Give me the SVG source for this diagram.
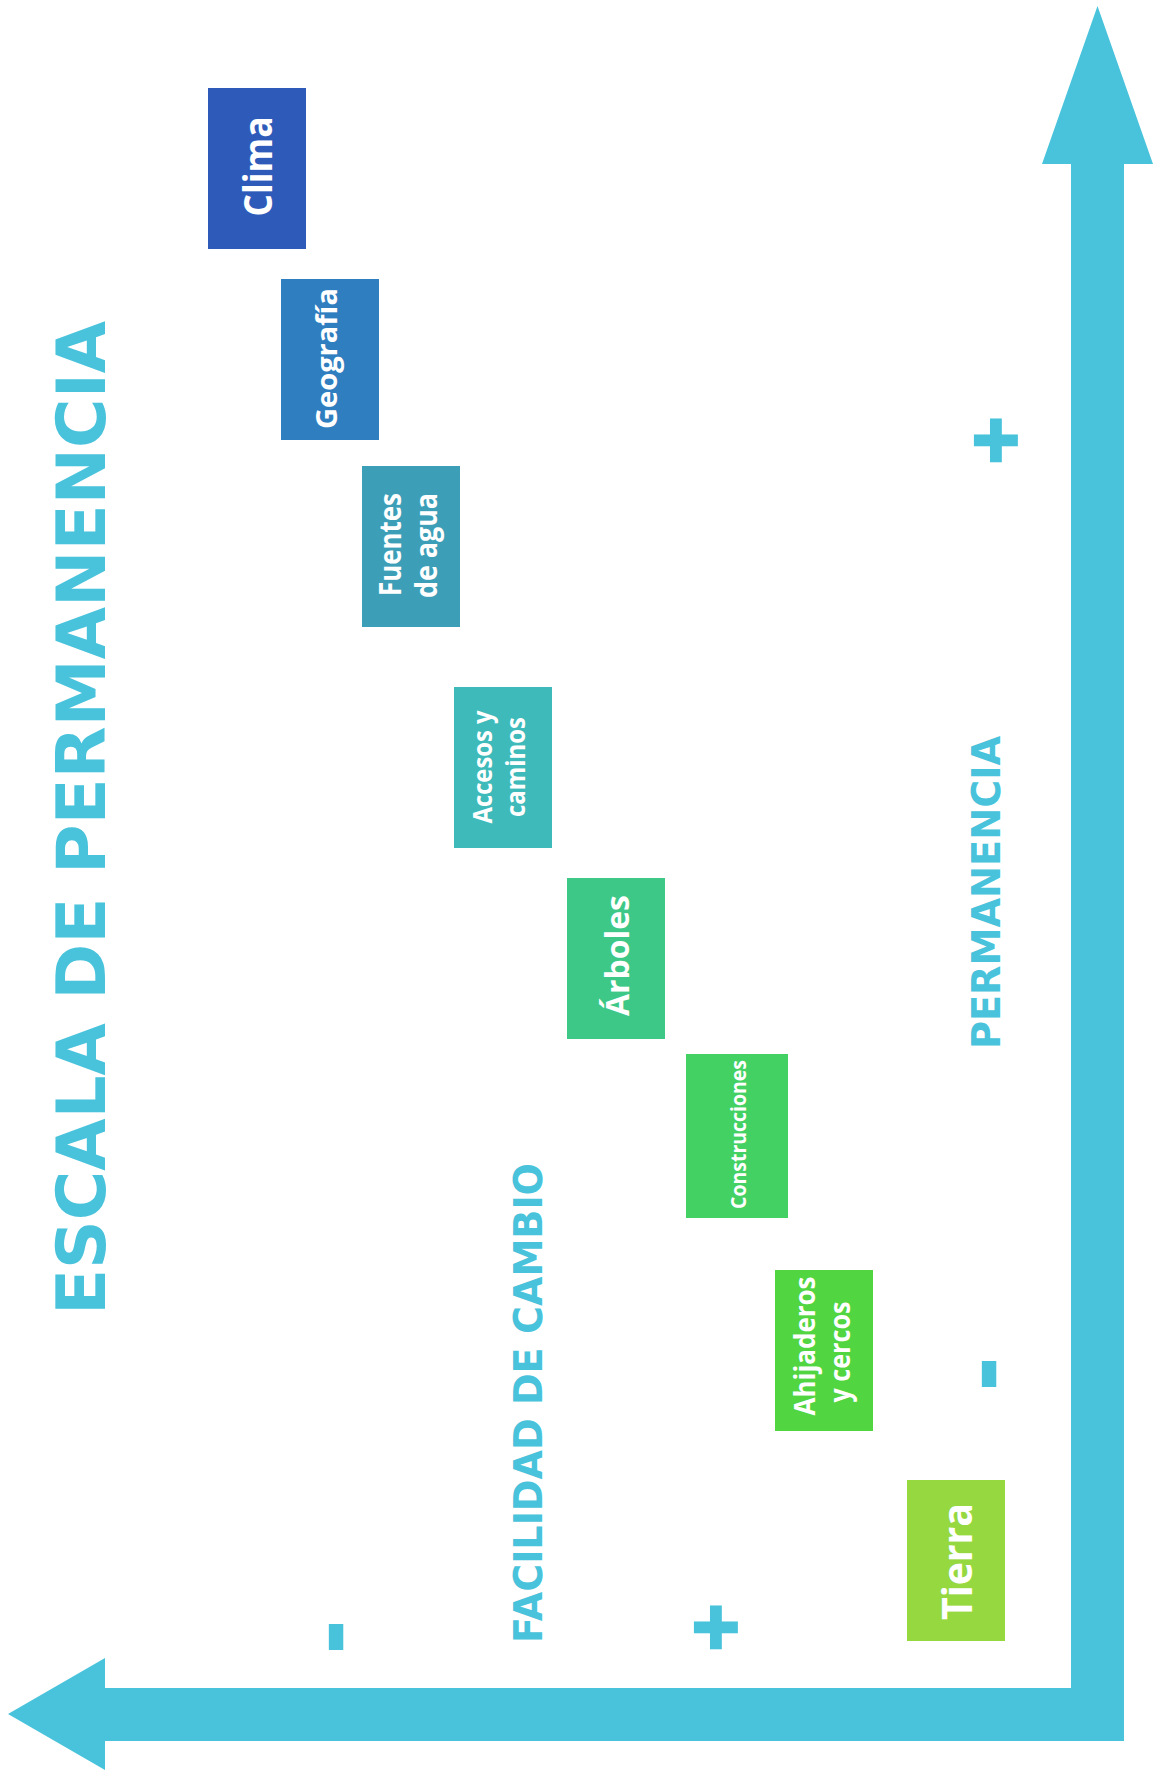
<svg xmlns="http://www.w3.org/2000/svg" width="1153" height="1775" viewBox="0 0 1153 1775">
  <style>
    .box text { fill: #ffffff; font-family: "Open Sans", "Liberation Sans", sans-serif; font-weight: 700; text-anchor: middle; }
    .axis-label { fill: #49C3DB; font-family: "DejaVu Sans", "Liberation Sans", sans-serif; font-weight: 700; }
    .sign { fill: #49C3DB; stroke: #49C3DB; stroke-width: 4.5; font-family: "DejaVu Sans", sans-serif; font-weight: 700; text-anchor: middle; }
    .axis { fill: #49C3DB; }
  </style>
  <rect width="1153" height="1775" fill="#ffffff"/>

  <!-- Axes: permanence (up) and ease of change (left) -->
  <g id="connectors">
    <path class="axis" d="M1097.5,6 L1153,164 L1124,164 L1124,1741 L105,1741 L105,1770 L8,1714 L105,1658 L105,1688 L1071,1688 L1071,164 L1042,164 Z"/>
  </g>

  <!-- Titles -->
  <g id="title">
    <text class="axis-label" font-size="67" textLength="994" lengthAdjust="spacingAndGlyphs" transform="translate(105,1315) rotate(-90)">ESCALA DE PERMANENCIA</text>
  </g>
  <g id="label-facilidad">
    <text class="axis-label" font-size="39" textLength="480" lengthAdjust="spacingAndGlyphs" transform="translate(541.5,1643) rotate(-90)">FACILIDAD DE CAMBIO</text>
  </g>
  <g id="label-permanencia">
    <text class="axis-label" font-size="38.5" textLength="313" lengthAdjust="spacingAndGlyphs" transform="translate(1000,1049) rotate(-90)">PERMANENCIA</text>
  </g>

  <!-- Scale signs -->
  <g id="signs">
    <text class="sign" font-size="63" x="996" y="460">+</text>
    <text class="sign" font-size="63" x="716" y="1647">+</text>
    <text class="sign" font-size="70" transform="translate(988,1374) rotate(-90)" y="21">-</text>
    <text class="sign" font-size="70" transform="translate(335,1637) rotate(-90)" y="21">-</text>
  </g>

  <!-- Elements, from most to least permanent -->
  <g id="clima" class="box">
    <rect x="208" y="88" width="98" height="161" fill="#2E5BBA"/>
    <text font-size="40" textLength="100" lengthAdjust="spacingAndGlyphs" transform="translate(272,166.5) rotate(-90)">Clima</text>
  </g>
  <g id="geografia" class="box">
    <rect x="281" y="279" width="98" height="161" fill="#2F7EBF"/>
    <text font-size="28" textLength="141" lengthAdjust="spacingAndGlyphs" transform="translate(337,358.5) rotate(-90)">Geografía</text>
  </g>
  <g id="fuentes" class="box">
    <rect x="362" y="466" width="98" height="161" fill="#3D9EB8"/>
    <text font-size="30" textLength="103" lengthAdjust="spacingAndGlyphs" transform="translate(401,544.5) rotate(-90)">Fuentes</text>
    <text font-size="30" textLength="105" lengthAdjust="spacingAndGlyphs" transform="translate(437,545.5) rotate(-90)">de agua</text>
  </g>
  <g id="accesos" class="box">
    <rect x="454" y="687" width="98" height="161" fill="#3DBAB9"/>
    <text font-size="27" textLength="113" lengthAdjust="spacingAndGlyphs" transform="translate(491.7,767) rotate(-90)">Accesos y</text>
    <text font-size="27" textLength="100" lengthAdjust="spacingAndGlyphs" transform="translate(525,767) rotate(-90)">caminos</text>
  </g>
  <g id="arboles" class="box">
    <rect x="567" y="878" width="98" height="161" fill="#3EC887"/>
    <text font-size="33" textLength="121" lengthAdjust="spacingAndGlyphs" transform="translate(628.7,955.5) rotate(-90)">Árboles</text>
  </g>
  <g id="construcciones" class="box">
    <rect x="686" y="1054" width="102" height="164" fill="#43D163"/>
    <text font-size="21" textLength="149" lengthAdjust="spacingAndGlyphs" transform="translate(746,1134.5) rotate(-90)">Construcciones</text>
  </g>
  <g id="ahijaderos" class="box">
    <rect x="775" y="1270" width="98" height="161" fill="#51D540"/>
    <text font-size="28" textLength="139" lengthAdjust="spacingAndGlyphs" transform="translate(815,1346) rotate(-90)">Ahijaderos</text>
    <text font-size="28" textLength="101" lengthAdjust="spacingAndGlyphs" transform="translate(850,1352) rotate(-90)">y cercos</text>
  </g>
  <g id="tierra" class="box">
    <rect x="907" y="1480" width="98" height="161" fill="#96D83F"/>
    <text font-size="42" textLength="117" lengthAdjust="spacingAndGlyphs" transform="translate(971.7,1561.5) rotate(-90)">Tierra</text>
  </g>
</svg>
